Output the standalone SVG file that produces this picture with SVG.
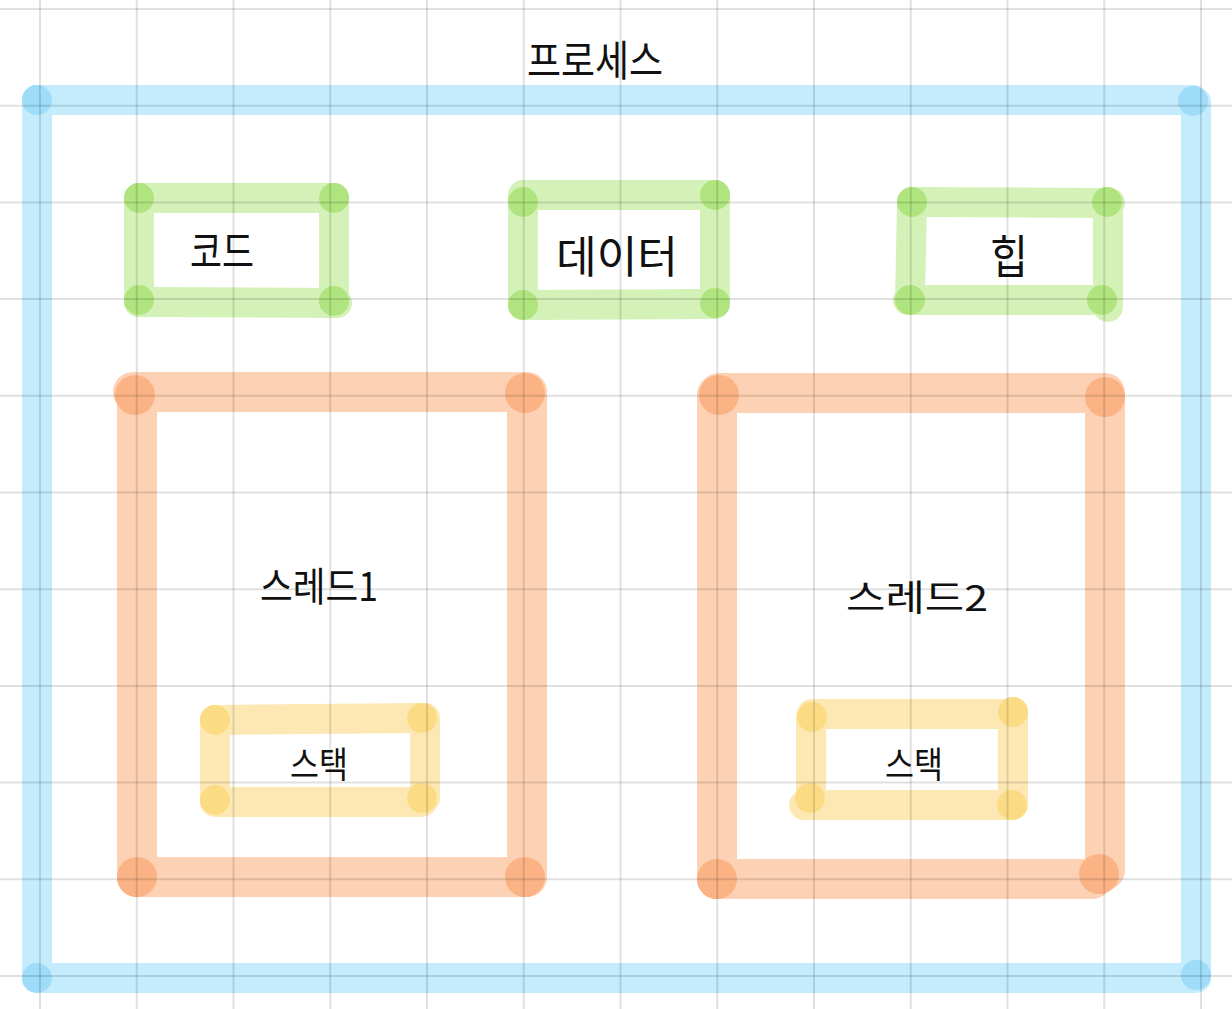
<svg xmlns="http://www.w3.org/2000/svg" width="1232" height="1009" viewBox="0 0 1232 1009">
  <style>
    .s { fill: none; stroke-linecap: round; }
    .blue { stroke: #c4ecfc; stroke-width: 30; }
    .green { stroke: #d4f2b8; stroke-width: 30; }
    .orange { stroke: #fdd2b4; stroke-width: 40; }
    .yellow { stroke: #fde8b4; stroke-width: 30; }
    .cb { fill: #9edcf9; }
    .cg { fill: #b0e47e; }
    .co { fill: #fbb284; }
    .cy { fill: #fbdc84; }
    .grid line { stroke: #000000; stroke-opacity: 0.12; stroke-width: 2; }
    .t { font-family: "Noto Sans CJK KR", "Noto Sans", sans-serif; fill: #111111; text-anchor: middle; dominant-baseline: central; }
  </style>
  <rect x="0" y="0" width="1232" height="1009" fill="#ffffff"/>

  <g id="process">
    <line class="s blue" x1="37" y1="100" x2="1193" y2="100"/>
    <line class="s blue" x1="1196" y1="102" x2="1196" y2="975"/>
    <line class="s blue" x1="37" y1="978" x2="1196" y2="978"/>
    <line class="s blue" x1="37" y1="100" x2="37" y2="978"/>
    <circle class="cb" cx="37" cy="100" r="15"/>
    <circle class="cb" cx="1193" cy="101" r="15"/>
    <circle class="cb" cx="1196" cy="975" r="15"/>
    <circle class="cb" cx="37" cy="978" r="15"/>
    <text class="t" x="595" y="57" font-size="42" textLength="136" lengthAdjust="spacingAndGlyphs">프로세스</text>
  </g>

  <g id="code">
    <line class="s green" x1="139" y1="198" x2="334" y2="198"/>
    <line class="s green" x1="334" y1="198" x2="334" y2="302"/>
    <line class="s green" x1="139" y1="302" x2="337" y2="303"/>
    <line class="s green" x1="139" y1="198" x2="139" y2="302"/>
    <circle class="cg" cx="139" cy="198" r="15"/>
    <circle class="cg" cx="334" cy="198" r="15"/>
    <circle class="cg" cx="139" cy="300" r="15"/>
    <circle class="cg" cx="334" cy="301" r="15"/>
    <text class="t" x="222" y="249" font-size="44" textLength="64" lengthAdjust="spacingAndGlyphs">코드</text>
  </g>

  <g id="data">
    <line class="s green" x1="523" y1="195" x2="715" y2="195"/>
    <line class="s green" x1="715" y1="195" x2="715" y2="303"/>
    <line class="s green" x1="523" y1="305" x2="715" y2="304"/>
    <line class="s green" x1="523" y1="198" x2="523" y2="305"/>
    <circle class="cg" cx="523" cy="202" r="15"/>
    <circle class="cg" cx="715" cy="195" r="15"/>
    <circle class="cg" cx="523" cy="305" r="15"/>
    <circle class="cg" cx="715" cy="303" r="15"/>
    <text class="t" x="617" y="254" font-size="44" textLength="122" lengthAdjust="spacingAndGlyphs">데이터</text>
  </g>

  <g id="heap">
    <line class="s green" x1="912" y1="202" x2="1110" y2="203"/>
    <line class="s green" x1="1108" y1="203" x2="1108" y2="307"/>
    <line class="s green" x1="908" y1="300" x2="1097" y2="300"/>
    <line class="s green" x1="912" y1="202" x2="910" y2="300"/>
    <circle class="cg" cx="912" cy="202" r="15"/>
    <circle class="cg" cx="1107" cy="202" r="15"/>
    <circle class="cg" cx="910" cy="300" r="15"/>
    <circle class="cg" cx="1102" cy="300" r="15"/>
    <text class="t" x="1009" y="253" font-size="46" textLength="38" lengthAdjust="spacingAndGlyphs">힙</text>
  </g>

  <g id="thread1">
    <line class="s orange" x1="133" y1="392" x2="527" y2="392"/>
    <line class="s orange" x1="527" y1="393" x2="527" y2="877"/>
    <line class="s orange" x1="137" y1="877" x2="525" y2="877"/>
    <line class="s orange" x1="137" y1="395" x2="137" y2="877"/>
    <circle class="co" cx="135" cy="395" r="20"/>
    <circle class="co" cx="525" cy="393" r="20"/>
    <circle class="co" cx="137" cy="877" r="20"/>
    <circle class="co" cx="525" cy="877" r="20"/>
    <text class="t" x="319" y="584" font-size="40" textLength="118" lengthAdjust="spacingAndGlyphs">스레드1</text>
  </g>

  <g id="stack1">
    <line class="s yellow" x1="215" y1="720" x2="422" y2="718"/>
    <line class="s yellow" x1="425" y1="718" x2="425" y2="798"/>
    <line class="s yellow" x1="215" y1="802" x2="422" y2="802"/>
    <line class="s yellow" x1="215" y1="720" x2="215" y2="800"/>
    <circle class="cy" cx="215" cy="720" r="15"/>
    <circle class="cy" cx="422" cy="718" r="15"/>
    <circle class="cy" cx="215" cy="800" r="15"/>
    <circle class="cy" cx="422" cy="798" r="15"/>
    <text class="t" x="319" y="762" font-size="36" textLength="58" lengthAdjust="spacingAndGlyphs">스택</text>
  </g>

  <g id="thread2">
    <line class="s orange" x1="719" y1="393" x2="1105" y2="393"/>
    <line class="s orange" x1="1105" y1="397" x2="1105" y2="870"/>
    <line class="s orange" x1="717" y1="879" x2="1092" y2="879"/>
    <line class="s orange" x1="717" y1="395" x2="717" y2="879"/>
    <circle class="co" cx="719" cy="395" r="20"/>
    <circle class="co" cx="1105" cy="397" r="20"/>
    <circle class="co" cx="717" cy="879" r="20"/>
    <circle class="co" cx="1099" cy="874" r="20"/>
    <text class="t" x="917" y="595" font-size="36" textLength="142" lengthAdjust="spacingAndGlyphs">스레드2</text>
  </g>

  <g id="stack2">
    <line class="s yellow" x1="812" y1="714" x2="1013" y2="714"/>
    <line class="s yellow" x1="1013" y1="712" x2="1013" y2="805"/>
    <line class="s yellow" x1="804" y1="805" x2="1012" y2="805"/>
    <line class="s yellow" x1="811" y1="717" x2="811" y2="798"/>
    <circle class="cy" cx="812" cy="717" r="15"/>
    <circle class="cy" cx="1013" cy="712" r="15"/>
    <circle class="cy" cx="810" cy="798" r="15"/>
    <circle class="cy" cx="1012" cy="805" r="15"/>
    <text class="t" x="914" y="762" font-size="36" textLength="58" lengthAdjust="spacingAndGlyphs">스택</text>
  </g>

  <g id="connectors"/>

  <g class="grid">
    <line x1="40" y1="0" x2="40" y2="1009"/>
    <line x1="136.75" y1="0" x2="136.75" y2="1009"/>
    <line x1="233.5" y1="0" x2="233.5" y2="1009"/>
    <line x1="330.25" y1="0" x2="330.25" y2="1009"/>
    <line x1="427" y1="0" x2="427" y2="1009"/>
    <line x1="523.75" y1="0" x2="523.75" y2="1009"/>
    <line x1="620.5" y1="0" x2="620.5" y2="1009"/>
    <line x1="717.25" y1="0" x2="717.25" y2="1009"/>
    <line x1="814" y1="0" x2="814" y2="1009"/>
    <line x1="910.75" y1="0" x2="910.75" y2="1009"/>
    <line x1="1007.5" y1="0" x2="1007.5" y2="1009"/>
    <line x1="1104.25" y1="0" x2="1104.25" y2="1009"/>
    <line x1="1201" y1="0" x2="1201" y2="1009"/>
    <line x1="0" y1="9" x2="1232" y2="9"/>
    <line x1="0" y1="105.7" x2="1232" y2="105.7"/>
    <line x1="0" y1="202.4" x2="1232" y2="202.4"/>
    <line x1="0" y1="299.1" x2="1232" y2="299.1"/>
    <line x1="0" y1="395.8" x2="1232" y2="395.8"/>
    <line x1="0" y1="492.5" x2="1232" y2="492.5"/>
    <line x1="0" y1="589.2" x2="1232" y2="589.2"/>
    <line x1="0" y1="685.9" x2="1232" y2="685.9"/>
    <line x1="0" y1="782.6" x2="1232" y2="782.6"/>
    <line x1="0" y1="879.3" x2="1232" y2="879.3"/>
    <line x1="0" y1="976" x2="1232" y2="976"/>
  </g>
</svg>
